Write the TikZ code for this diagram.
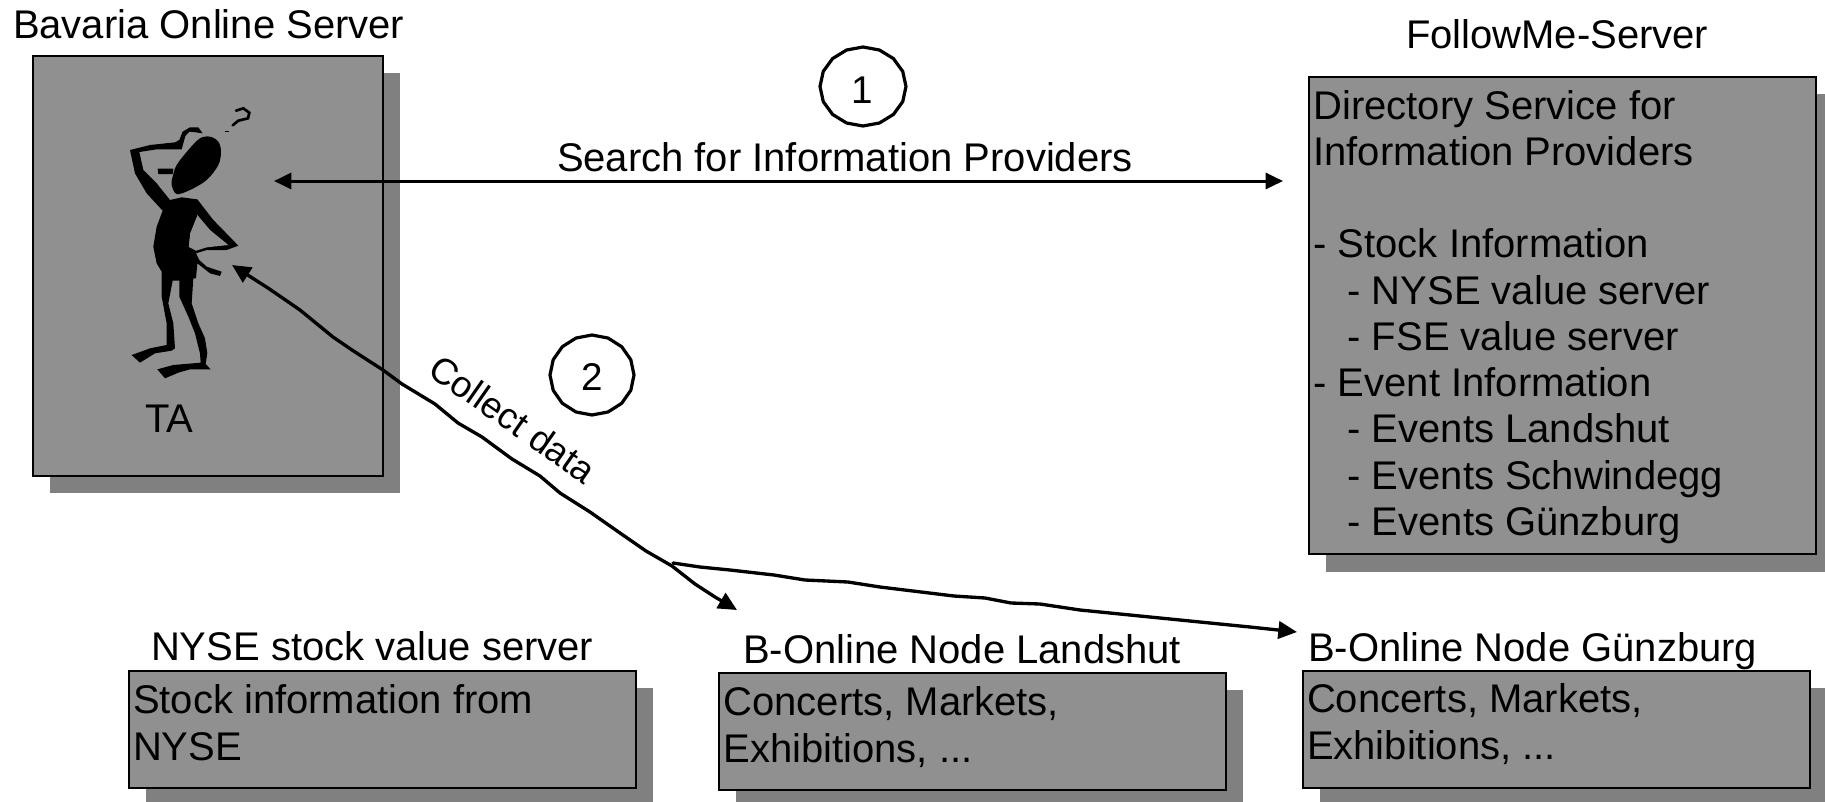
\documentclass[tikz,border=0pt]{standalone}
\usepackage{fontspec}
\setmainfont{Liberation Sans}
\usetikzlibrary{arrows.meta,shadows}
\definecolor{boxgray}{HTML}{909090}
\definecolor{shadegray}{HTML}{808080}
\tikzset{
  x=0.75pt,y=-0.75pt,
  srvbox/.style={draw=black,line width=1.5pt,fill=boxgray,rectangle,anchor=north west,inner sep=0,outer sep=0,
    general shadow={fill=shadegray,shadow xshift=13pt,shadow yshift=-13pt}},
  lbl/.style={anchor=base west,inner sep=0,outer sep=0,font=\fontsize{30}{34.7}\selectfont,align=left},
  small/.style={lbl,font=\fontsize{27.5}{32}\selectfont},
  digit/.style={lbl,anchor=base,font=\fontsize{29}{32}\selectfont},
  conn/.style={line width=2.5pt,{Triangle[length=14pt,width=13pt]}-{Triangle[length=14pt,width=13pt]},line join=round},
  oneway/.style={line width=2.5pt,-{Triangle[length=14pt,width=13pt]},line join=round,line cap=round},
  twoway/.style={line width=2.25pt,{Triangle[length=13pt,width=12pt]}-{Triangle[length=13pt,width=12pt]}},
  badge/.style={line width=2.4pt,draw=black,line join=round},
  ink/.style={fill=black,draw=none},
}
\begin{document}
\begin{tikzpicture}
\useasboundingbox (0,0) rectangle (1825,801);
% boxes
\node[srvbox,minimum width=262.5pt,minimum height=315pt] (bavaria) at (33,56) {};
\node[srvbox,minimum width=380.25pt,minimum height=358pt] (follow) at (1309,77) {};
\node[srvbox,minimum width=380.25pt,minimum height=87.5pt] (nyse) at (129,671) {};
\node[srvbox,minimum width=380.25pt,minimum height=87.5pt] (land) at (719,673) {};
\node[srvbox,minimum width=380.25pt,minimum height=87.5pt] (gunz) at (1303,671) {};
% titles
\node[lbl] (tbav) at (13,38) {Bavaria Online Server};
\node[lbl] (tfol) at (1406,48) {FollowMe-Server};
\node[lbl] (tnys) at (151,660) {NYSE stock value server};
\node[lbl] (tlan) at (743,663) {B-Online Node Landshut};
\node[lbl] (tgun) at (1308,661) {B-Online Node Günzburg};
% box texts
\node[lbl] (xfol) at (1313.5,535.5) {Directory Service for\\Information Providers\\~\\- Stock Information\\\hspace*{25.5pt}- NYSE value server\\\hspace*{25.5pt}- FSE value server\\- Event Information\\\hspace*{25.5pt}- Events Landshut\\\hspace*{25.5pt}- Events Schwindegg\\\hspace*{25.5pt}- Events Günzburg};
\node[lbl] (xnys) at (133,760) {Stock information from\\NYSE};
\node[lbl] (xlan) at (723.5,762) {Concerts, Markets,\\Exhibitions, ...};
\node[lbl] (xgun) at (1307,759) {Concerts, Markets,\\Exhibitions, ...};
\node[lbl] (ta) at (145,432) {TA};
% thinking figure
\begin{scope}[shift={(110,90)},x=0.25pt,y=-0.25pt]
  \fill[ink] plot[smooth cycle,tension=0.55] coordinates {(185,285)(200,312)(240,300)(290,270)(325,225)(333,185)(325,155)(300,140)(270,145)(235,180)(200,225)(188,260)};
  \fill[ink] (143,236) -- (190,236) -- (188,252) -- (145,252) -- cycle;
  \fill[ink,line join=round] (60,180) -- (120,165) -- (195,157) -- (208,150) -- (218,125) -- (240,112) -- (265,112) -- (278,130) -- (258,127) -- (238,125) -- (226,138) -- (215,178) -- (140,178) -- (88,186) -- (100,240) -- (140,280) -- (180,330) -- (215,322) -- (262,328) -- (310,390) -- (385,467) -- (350,480) -- (290,480) -- (258,490) -- (268,510) -- (290,530) -- (335,545) -- (330,558) -- (300,550) -- (275,530) -- (262,520) -- (258,565) -- (250,565) -- (245,640) -- (265,700) -- (285,745) -- (292,790) -- (287,822) -- (302,838) -- (240,838) -- (205,848) -- (165,865) -- (142,838) -- (190,825) -- (272,818) -- (270,790) -- (255,730) -- (235,680) -- (208,620) -- (208,572) -- (188,572) -- (175,640) -- (190,700) -- (195,775) -- (185,782) -- (135,790) -- (90,818) -- (65,795) -- (120,775) -- (170,765) -- (170,700) -- (155,620) -- (155,545) -- (140,520) -- (130,470) -- (140,410) -- (158,362) -- (110,310) -- (75,250) -- cycle;
  % gap between torso and right arm
  \fill[boxgray] (262,375) -- (300,420) -- (355,465) -- (290,472) -- (258,482) -- (235,470) -- (240,430) -- cycle;
  \fill[ink] (240,330) -- (262,375) -- (240,430) -- (235,480) -- (258,515) -- (200,500) -- cycle;
  \draw[line width=2pt,line cap=round] (378,62) -- (400,55) -- (418,68) -- (414,85) -- (385,92) -- (368,106);
  \fill[ink] (346,122) rectangle (357,127);
\end{scope}
% connectors
\coordinate (searchL) at (274,181);
\coordinate (searchR) at (1283,181);
\coordinate (taTip) at (232,265);
\coordinate (landTip) at (737,610);
\coordinate (forkStart) at (673,563);
\coordinate (gunzTip) at (1297,632);
\draw[twoway] (searchL) -- (searchR);
\draw[conn] (taTip) -- (268,288) -- (300,310) -- (333,337) -- (352,350) -- (383,370) -- (402,384) -- (435,404) -- (458,423) -- (482,437) -- (512,459) -- (540,476) -- (560,493) -- (590,512) -- (620,533) -- (646,551) -- (672,566) -- (695,584) -- (715,597) -- (landTip);
\draw[oneway] (forkStart) -- (700,567) -- (730,570) -- (774,575) -- (805,580) -- (848,582) -- (880,587) -- (954,596) -- (985,598) -- (1011,603) -- (1040,604) -- (1080,610) -- (1110,613) -- (1170,619) -- (1210,623) -- (1250,627) -- (gunzTip);
% labels
\node[lbl] (search) at (557,171) {Search for Information Providers};
\node[small,rotate=-35] (collect) at (426,374) {Collect data};
\draw[badge] plot[domain=0:360,samples=17] ({863+43*cos(\x)},{86.5+39.5*sin(\x)}) -- cycle;
\draw[badge] plot[domain=0:360,samples=17] ({592+42*cos(\x)},{375+40*sin(\x)}) -- cycle;
\node[digit] (one) at (862,103) {1};
\node[digit] (two) at (592,390) {2};
\end{tikzpicture}
\end{document}
